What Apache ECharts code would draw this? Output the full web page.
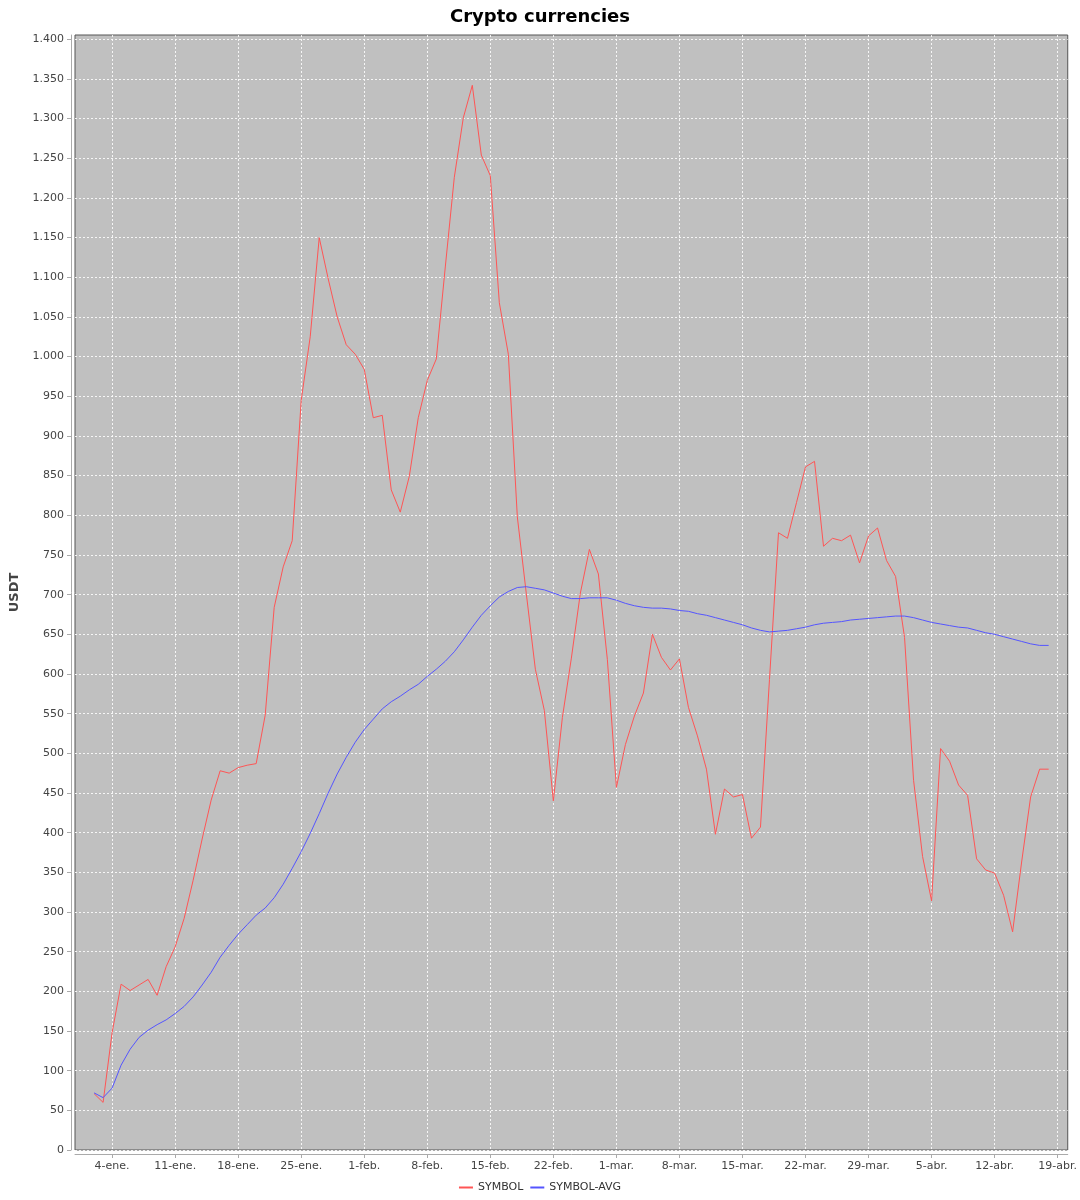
<!DOCTYPE html>
<html>
<head>
<meta charset="utf-8">
<script src="https://cdn.jsdelivr.net/npm/echarts@6/dist/echarts.min.js"></script>
<style>
html,body{margin:0;padding:0;background:#fff;}
#chart{width:1080px;height:1200px;}
</style>
</head>
<body>
<div id="chart"></div>
<script>
// Days are counted from 4-ene. (day 0); data runs from 2-ene. (day -2) to 18-abr. (day 104)
var firstDay = -2;

var symbolValues = [
  71, 60, 148, 209, 201, 208, 215, 195, 231, 256,
  292, 340, 392, 441, 478, 475, 482, 485, 487, 548,
  684, 735, 768, 945, 1025, 1150, 1098, 1050, 1015, 1003,
  984, 923, 926, 832, 804, 849, 923, 970, 997, 1113,
  1226, 1301, 1342, 1254, 1228, 1068, 1003, 798, 701, 606,
  554, 440, 545, 620, 702, 757, 726, 618, 457, 511,
  547, 576, 650, 621, 605, 619, 558, 522, 480, 398,
  455, 445, 448, 393, 407, 593, 778, 771, 816, 861,
  868, 761, 771, 768, 775, 740, 774, 784, 743, 723,
  646, 466, 370, 314, 506, 490, 460, 447, 367, 353,
  349, 321, 275, 363, 445, 480, 480
];

var symbolAvgValues = [
  72, 66, 78, 107, 127, 142, 151, 158, 164, 172,
  181, 193, 208, 224, 243, 258, 272, 284, 296, 305,
  318, 335, 355, 376, 399, 424, 450, 474, 495, 514,
  530, 543, 556, 565, 572, 580, 587, 597, 606, 616,
  628, 643, 659, 674, 686, 697, 704, 709, 710, 708,
  706, 702, 698, 695, 695, 696, 696, 696, 693, 689,
  686, 684, 683, 683, 682, 680, 679, 676, 674, 671,
  668, 665, 662, 658, 655, 653, 654, 655, 657, 659,
  662, 664, 665, 666, 668, 669, 670, 671, 672, 673,
  673, 671, 668, 665, 663, 661, 659, 658, 655, 652,
  650, 647, 644, 641, 638, 636, 636
];

var xTickDays = [0, 7, 14, 21, 28, 35, 42, 49, 56, 63, 70, 77, 84, 91, 98, 105];
var xTickLabels = ['4-ene.', '11-ene.', '18-ene.', '25-ene.', '1-feb.', '8-feb.', '15-feb.',
  '22-feb.', '1-mar.', '8-mar.', '15-mar.', '22-mar.', '29-mar.', '5-abr.', '12-abr.', '19-abr.'];

var yTicks = [];
for (var t = 0; t <= 1400; t += 50) yTicks.push(t);

var RED = '#ff5555';
var BLUE = '#5555ff';

function toPairs(vals) {
  return vals.map(function (v, i) { return [firstDay + i, v]; });
}
function fmtY(v) {
  var s = String(Math.round(v));
  return s.replace(/\B(?=(\d{3})+(?!\d))/g, '.');
}

var FONT = 'DejaVu Sans';
var chart = echarts.init(document.getElementById('chart'), null, {renderer: 'canvas'});
chart.setOption({
  animation: false,
  backgroundColor: '#ffffff',
  title: {
    text: 'Crypto currencies',
    left: 'center',
    top: 3,
    textStyle: {fontFamily: FONT, fontSize: 18, fontWeight: 'bold', color: '#000'}
  },
  legend: {
    top: 1177,
    left: 'center',
    itemWidth: 14,
    itemHeight: 2,
    itemGap: 7,
    textStyle: {fontFamily: FONT, fontSize: 11, color: '#333'},
    data: [
      {name: 'SYMBOL', icon: 'rect', itemStyle: {color: RED}},
      {name: 'SYMBOL-AVG', icon: 'rect', itemStyle: {color: BLUE}}
    ]
  },
  grid: {
    left: 75, top: 35, right: 12, bottom: 50,
    show: true,
    backgroundColor: '#c0c0c0',
    borderColor: '#555555',
    borderWidth: 1,
    containLabel: false
  },
  xAxis: {
    type: 'value',
    min: -4.12,
    max: 106.12,
    offset: 4,
    axisLine: {show: true, onZero: false, lineStyle: {color: '#aaaaaa', width: 1}},
    axisTick: {show: true, length: 4, customValues: xTickDays, lineStyle: {color: '#aaaaaa'}},
    axisLabel: {
      customValues: xTickDays,
      margin: 7,
      fontFamily: FONT, fontSize: 11, color: '#444',
      formatter: function (v) {
        var i = xTickDays.indexOf(Math.round(v));
        return i >= 0 ? xTickLabels[i] : '';
      }
    },
    splitLine: {show: true, lineStyle: {color: 'rgba(255,255,255,0.85)', type: [2, 2], width: 1}}
  },
  yAxis: {
    type: 'value',
    min: 0,
    max: 1405.4,
    offset: 4,
    name: 'USDT',
    nameLocation: 'middle',
    nameRotate: 90,
    nameGap: 37,
    nameTextStyle: {fontFamily: FONT, fontSize: 13, fontWeight: 'bold', color: '#444'},
    axisLine: {show: true, onZero: false, lineStyle: {color: '#aaaaaa', width: 1}},
    axisTick: {show: true, length: 4, customValues: yTicks, lineStyle: {color: '#aaaaaa'}},
    axisLabel: {
      customValues: yTicks,
      margin: 7,
      fontFamily: FONT, fontSize: 11, color: '#444',
      formatter: fmtY
    },
    splitLine: {show: true, lineStyle: {color: 'rgba(255,255,255,0.85)', type: [2, 2], width: 1}}
  },
  series: [
    {
      name: 'SYMBOL',
      type: 'line',
      data: toPairs(symbolValues),
      showSymbol: false,
      symbol: 'none',
      lineStyle: {color: RED, width: 1},
      itemStyle: {color: RED}
    },
    {
      name: 'SYMBOL-AVG',
      type: 'line',
      data: toPairs(symbolAvgValues),
      showSymbol: false,
      symbol: 'none',
      lineStyle: {color: BLUE, width: 1},
      itemStyle: {color: BLUE}
    }
  ]
});
</script>
</body>
</html>
